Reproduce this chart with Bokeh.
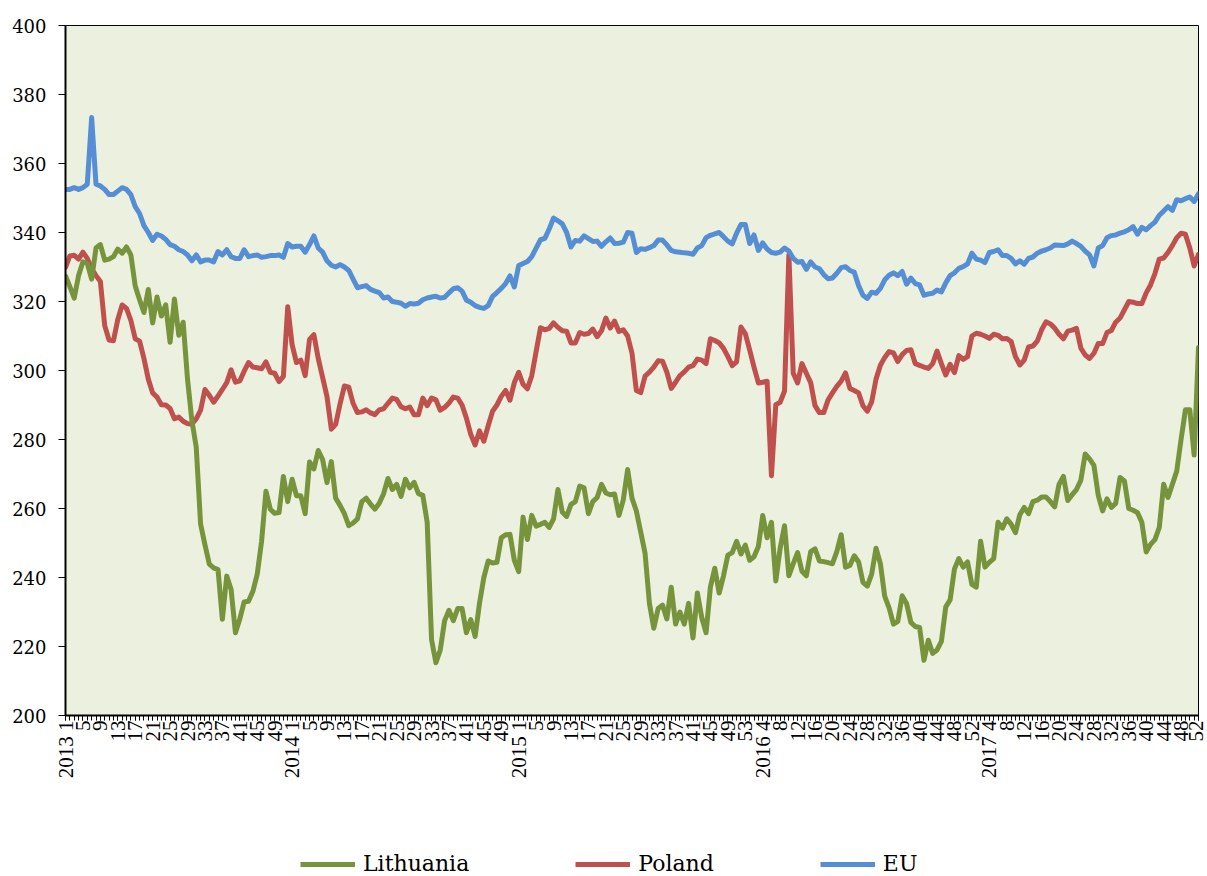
import math
from bokeh.plotting import figure
from bokeh.layouts import column
from bokeh.models import FixedTicker, Legend, LegendItem, Range1d
from bokeh.embed import file_html
from bokeh.resources import INLINE

# ---- data -------------------------------------------------------------
years = [2013, 2014, 2015, 2016, 2017]
weeks_in_year = [52, 52, 53, 52, 52]
series_names = ["Lithuania", "Poland", "EU"]

lithuania = [
    327.4, 324.3, 321.0, 327.5, 331.5, 331.0, 326.5, 335.5, 336.5, 332.0,
    332.3, 333.0, 335.2, 334.0, 335.8, 333.5, 324.5, 320.5, 316.8, 323.5,
    313.8, 321.3, 315.8, 319.0, 308.2, 320.7, 310.2, 314.0, 297.5, 285.5,
    277.8, 255.5, 249.5, 243.9, 242.8, 242.3, 227.9, 240.4, 236.5, 224.0,
    228.0, 232.9, 233.1, 236.0, 241.0, 250.5, 265.0, 259.8, 258.6, 258.8,
    269.3, 262.0, 268.5, 263.7, 263.7, 258.5, 273.5, 271.5, 276.8, 274.2,
    267.5, 273.6, 263.0, 260.9, 258.5, 255.0, 255.8, 257.0, 262.0, 263.0,
    261.3, 259.8, 261.5, 264.3, 268.7, 265.5, 267.0, 263.5, 268.5, 266.0,
    267.6, 264.3, 263.8, 256.0, 222.0, 215.3, 219.0, 227.5, 230.5, 227.5,
    231.0, 231.0, 224.0, 227.8, 222.9, 232.5, 240.0, 244.8, 244.2, 244.4,
    251.5, 252.4, 252.5, 245.0, 241.7, 257.5, 251.0, 258.0, 254.9, 255.4,
    256.0, 254.5, 257.0, 265.5, 259.0, 257.7, 261.2, 262.0, 266.5, 266.0,
    258.5, 262.0, 263.2, 267.0, 264.5, 264.0, 264.2, 258.0, 262.5, 271.3,
    263.0, 259.3, 253.2, 247.0, 232.5, 225.3, 231.0, 232.0, 228.0, 237.2,
    226.5, 230.0, 226.5, 232.5, 222.5, 235.5, 228.4, 224.0, 237.3, 242.7,
    235.5, 240.5, 246.5, 247.2, 250.5, 246.8, 249.4, 245.0, 246.0, 249.0,
    258.0, 251.5, 256.0, 239.0, 248.5, 255.0, 240.5, 244.0, 247.2, 241.8,
    240.5, 247.5, 248.3, 244.8, 244.6, 244.3, 244.0, 247.5, 252.4, 243.0,
    243.5, 246.3, 244.5, 238.6, 237.5, 241.0, 248.5, 244.0, 234.5, 231.2,
    226.5, 227.3, 234.7, 232.5, 227.0, 225.8, 225.5, 216.0, 221.8, 218.0,
    219.0, 221.5, 231.5, 233.5, 242.5, 245.5, 243.0, 244.5, 238.0, 237.2,
    250.5, 243.0, 244.4, 245.5, 256.0, 254.3, 257.0, 255.5, 253.0, 258.2,
    260.3, 258.5, 262.0, 262.4, 263.3, 263.3, 262.0, 260.5, 267.0, 269.3,
    262.3, 264.0, 265.5, 268.2, 275.8, 274.4, 272.5, 263.8, 259.3, 262.8,
    260.3, 261.5, 269.0, 268.0, 260.0, 259.5, 258.8, 256.0, 247.4, 249.6,
    251.0, 254.5, 267.0, 263.2, 267.0, 270.8, 280.0, 288.6, 288.6, 275.5,
    306.7,
]

poland = [
    329.9, 333.2, 333.4, 332.3, 334.3, 332.5, 329.5, 327.5, 325.8, 313.0,
    308.8, 308.6, 314.8, 319.0, 318.0, 314.5, 309.2, 308.5, 303.5, 297.5,
    293.5, 292.3, 290.1, 290.0, 289.0, 286.0, 286.5, 285.3, 284.6, 284.4,
    286.0, 288.5, 294.5, 292.8, 290.8, 292.6, 294.5, 296.5, 300.2, 296.6,
    297.0, 299.8, 302.3, 301.0, 300.8, 300.5, 302.5, 299.5, 299.2, 296.8,
    298.3, 318.5, 307.5, 302.3, 303.0, 298.5, 309.0, 310.4, 303.5, 298.0,
    292.5, 283.0, 284.4, 290.3, 295.5, 295.2, 290.5, 287.8, 288.0, 288.6,
    287.7, 287.2, 288.6, 288.9, 290.5, 292.0, 291.6, 289.5, 288.9, 289.4,
    287.2, 287.2, 292.0, 289.8, 292.0, 291.5, 288.5, 289.3, 290.6, 292.3,
    292.0, 290.0, 286.2, 281.5, 278.4, 282.5, 279.5, 284.0, 288.2, 290.0,
    292.5, 294.2, 291.4, 296.5, 299.5, 296.0, 294.7, 298.5, 305.5, 312.4,
    311.8, 312.2, 313.8, 312.5, 311.5, 311.4, 308.0, 308.0, 311.0, 310.5,
    310.7, 312.0, 309.8, 311.5, 315.2, 312.3, 314.3, 311.3, 311.8, 310.0,
    305.0, 294.2, 293.6, 298.4, 299.5, 301.0, 302.8, 302.7, 299.5, 294.8,
    296.6, 298.5, 299.6, 301.0, 301.4, 303.3, 303.0, 302.0, 309.2, 308.7,
    308.0, 306.4, 304.0, 301.4, 302.5, 312.6, 310.7, 306.0, 301.0, 296.4,
    296.6, 296.9, 269.5, 290.1, 290.8, 294.0, 333.5, 299.2, 296.4, 302.0,
    299.2, 296.5, 289.8, 287.8, 287.8, 291.5, 293.5, 295.4, 296.9, 299.3,
    294.8, 294.2, 293.5, 289.8, 288.2, 290.9, 297.5, 301.5, 303.8, 305.5,
    305.1, 302.6, 304.6, 305.8, 306.0, 302.0, 301.5, 301.0, 300.6, 302.0,
    305.6, 302.0, 298.7, 301.8, 299.4, 304.3, 303.2, 304.0, 310.0, 310.8,
    310.5, 310.0, 309.3, 310.5, 310.2, 309.2, 309.3, 308.4, 304.0, 301.6,
    303.0, 306.8, 307.1, 308.5, 311.8, 314.1, 313.5, 312.3, 310.5, 309.2,
    311.4, 311.7, 312.2, 306.5, 304.5, 303.5, 305.0, 307.8, 307.8, 311.0,
    311.6, 314.0, 315.2, 317.6, 320.0, 319.8, 319.4, 319.4, 322.5, 324.8,
    328.1, 332.3, 332.6, 334.2, 336.2, 338.5, 339.8, 339.5, 335.5, 330.3,
    333.7,
]

eu = [
    352.5, 352.5, 353.0, 352.5, 353.0, 354.0, 373.3, 354.0, 353.5, 352.5,
    351.0, 351.0, 352.0, 353.0, 352.5, 351.0, 347.5, 345.5, 342.0, 340.0,
    337.7, 339.5, 339.0, 338.0, 336.5, 336.0, 335.0, 334.5, 333.5, 331.8,
    333.5, 331.5, 332.0, 332.0, 331.5, 334.5, 333.5, 335.0, 333.0, 332.5,
    332.5, 335.0, 333.0, 333.3, 333.5, 332.8, 333.0, 333.3, 333.3, 333.5,
    332.8, 336.8, 335.8, 336.0, 336.0, 334.3, 336.5, 339.0, 335.5, 334.3,
    331.8, 330.5, 330.0, 330.7, 330.0, 329.0, 326.5, 324.0, 324.3, 324.6,
    323.5, 323.0, 322.6, 321.0, 321.3, 320.0, 319.8, 319.5, 318.6, 319.4,
    319.3, 319.5, 320.5, 321.0, 321.3, 321.5, 321.0, 321.2, 322.5, 323.7,
    324.0, 323.0, 320.4, 319.8, 318.8, 318.3, 318.0, 318.8, 321.5, 322.6,
    323.8, 325.2, 327.4, 324.2, 330.4, 331.0, 331.6, 333.0, 335.5, 337.9,
    338.3, 341.0, 344.2, 343.4, 342.5, 340.0, 335.8, 337.7, 337.5, 339.0,
    338.2, 337.4, 337.5, 336.0, 337.3, 338.4, 336.8, 336.9, 337.2, 340.0,
    339.8, 334.2, 335.3, 335.1, 335.6, 336.2, 337.8, 337.8, 336.4, 334.8,
    334.4, 334.3, 334.1, 334.0, 333.7, 335.5, 336.2, 338.5, 339.2, 339.6,
    340.0, 338.8, 337.5, 336.7, 339.8, 342.3, 342.3, 336.8, 339.3, 334.8,
    337.0, 335.2, 334.2, 334.0, 334.3, 335.5, 334.6, 332.5, 331.4, 331.6,
    329.3, 331.5, 330.0, 329.5, 327.8, 326.6, 326.8, 328.2, 329.8, 330.1,
    329.0, 328.5, 324.6, 321.8, 320.9, 322.7, 322.4, 323.8, 326.3, 327.6,
    328.3, 327.5, 328.7, 325.0, 326.8, 325.2, 324.8, 321.8, 322.2, 322.4,
    323.3, 322.8, 325.4, 327.5, 328.3, 329.6, 330.1, 330.9, 334.0, 332.3,
    332.0, 331.3, 334.2, 334.5, 335.0, 333.3, 333.3, 332.5, 330.9, 331.8,
    330.8, 332.5, 332.9, 334.0, 334.6, 335.0, 335.5, 336.4, 336.3, 336.2,
    336.7, 337.5, 336.8, 336.0, 334.6, 333.5, 330.3, 335.5, 336.2, 338.5,
    339.1, 339.3, 339.8, 340.2, 340.8, 341.7, 339.5, 341.5, 340.8, 342.0,
    343.0, 345.0, 346.2, 347.5, 346.4, 349.5, 349.2, 349.8, 350.3, 349.0,
    351.2,
]

# ---- categories / tick labels ----------------------------------------
cat_year, cat_week = [], []
for yr, nw in zip(years, weeks_in_year):
    for w in range(1, nw + 1):
        cat_year.append(yr)
        cat_week.append(w)
idx = list(range(len(cat_week)))

tick_idx = idx[::4]
overrides = {}
seen_years = set()
for i in tick_idx:
    yr, w = cat_year[i], cat_week[i]
    if yr not in seen_years:
        overrides[i] = f"{yr} {w}"
        seen_years.add(yr)
    else:
        overrides[i] = str(w)

colors = {"Lithuania": "#77933C", "Poland": "#C0504D", "EU": "#558ED5"}
data = {"Lithuania": lithuania, "Poland": poland, "EU": eu}

# ---- main figure --------------------------------------------------------
p = figure(frame_width=1133, frame_height=690,
           min_border_left=65, min_border_top=25, min_border_right=9,
           min_border_bottom=85,
           x_range=Range1d(0, len(idx) - 1), y_range=Range1d(200, 400),
           output_backend="svg", toolbar_location=None)
p.background_fill_color = "#EBF1DE"
p.border_fill_color = "white"
p.outline_line_color = "#000000"
p.outline_line_width = 1
p.grid.visible = False

for name in ["Poland", "EU", "Lithuania"]:
    p.line(idx, data[name], line_color=colors[name],
           line_width=5, line_join="round", line_cap="round")

# y axis
p.yaxis.ticker = FixedTicker(ticks=list(range(200, 401, 20)))
p.yaxis.major_label_text_font = "DejaVu Serif"
p.yaxis.major_label_text_font_size = "18px"
p.yaxis.major_label_text_color = "black"
p.yaxis.major_tick_out = 7
p.yaxis.major_tick_in = 0
p.yaxis.minor_tick_out = 0
p.yaxis.minor_tick_in = 0
p.yaxis.axis_line_width = 2
p.yaxis.axis_line_color = "black"
p.yaxis.major_tick_line_color = "black"
p.yaxis.major_label_standoff = 12

# x axis
p.xaxis.ticker = FixedTicker(ticks=tick_idx, minor_ticks=idx)
p.xaxis.major_label_overrides = overrides
p.xaxis.major_label_orientation = math.pi / 2
p.xaxis.major_label_text_font = "Liberation Serif"
p.xaxis.major_label_text_font_size = "21px"
p.xaxis.major_label_text_color = "black"
p.xaxis.major_tick_out = 5
p.xaxis.major_tick_in = 0
p.xaxis.minor_tick_out = 5
p.xaxis.minor_tick_in = 0
p.xaxis.axis_line_width = 2
p.xaxis.axis_line_color = "black"
p.xaxis.major_tick_line_color = "black"
p.xaxis.minor_tick_line_color = "black"
p.xaxis.major_label_standoff = 0

# ---- legend strip (series drawn off-range; only the legend is visible) ----
lf = figure(frame_width=1133, height=76, min_border_left=65, min_border_right=9,
            min_border_top=0, min_border_bottom=0,
            x_axis_type=None, y_axis_type=None,
            x_range=Range1d(0, len(idx) - 1), y_range=Range1d(0, 1),
            output_backend="svg", toolbar_location=None)
lf.grid.visible = False
lf.outline_line_color = None
lf.background_fill_color = "white"
lf.border_fill_color = "white"
legend_r = {n: lf.line(idx, data[n], line_color=colors[n], line_width=5)
            for n in series_names}
legend = Legend(
    items=[LegendItem(label=n, renderers=[legend_r[n]]) for n in series_names],
    location=(235, 0), orientation="horizontal",
    glyph_width=55, glyph_height=22, label_standoff=8, spacing=106,
    padding=0, margin=0, border_line_color=None, background_fill_alpha=0,
    label_text_font="DejaVu Serif", label_text_font_size="22px",
    label_text_color="black",
)
lf.add_layout(legend)

layout = column(p, lf, spacing=0)
open("out.html", "w").write(file_html(layout, INLINE))
